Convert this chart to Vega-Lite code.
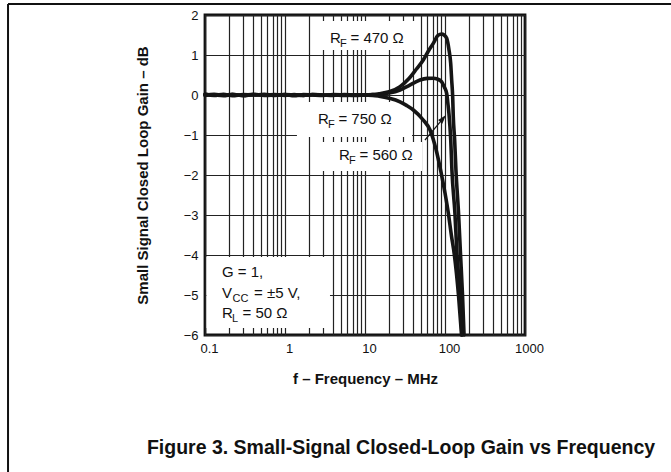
{
  "$schema": "https://vega.github.io/schema/vega-lite/v6.json",
  "width": 320,
  "height": 320,
  "autosize": {"type": "none"},
  "padding": {"left": 205, "top": 15, "right": 146, "bottom": 137},
  "background": "white",
  "config": {
    "view": {"stroke": "#111", "strokeWidth": 2.8},
    "font": "Liberation Sans"
  },
  "datasets": {
    "curves": [
      {"series": "470", "f": 0.1, "g": 0.02}, {"series": "470", "f": 0.13, "g": -0.01}, {"series": "470", "f": 0.17, "g": 0.015}, {"series": "470", "f": 0.22, "g": -0.02}, {"series": "470", "f": 0.3, "g": 0.01}, {"series": "470", "f": 0.4, "g": 0.0}, {"series": "470", "f": 0.55, "g": 0.015}, {"series": "470", "f": 0.75, "g": -0.01}, {"series": "470", "f": 1, "g": 0.01}, {"series": "470", "f": 1.3, "g": -0.015}, {"series": "470", "f": 1.7, "g": 0.01}, {"series": "470", "f": 2.2, "g": 0.0}, {"series": "470", "f": 3, "g": -0.01}, {"series": "470", "f": 4, "g": 0.01}, {"series": "470", "f": 5.5, "g": 0.0}, {"series": "470", "f": 7.5, "g": -0.01}, {"series": "470", "f": 10, "g": 0.005}, {"series": "470", "f": 12.5, "g": 0.01},
      {"series": "470", "f": 15, "g": 0.03}, {"series": "470", "f": 20, "g": 0.08}, {"series": "470", "f": 27.4, "g": 0.21}, {"series": "470", "f": 35, "g": 0.4}, {"series": "470", "f": 44, "g": 0.65}, {"series": "470", "f": 53.5, "g": 0.875}, {"series": "470", "f": 62, "g": 1.1}, {"series": "470", "f": 71.4, "g": 1.29}, {"series": "470", "f": 81.7, "g": 1.49}, {"series": "470", "f": 91, "g": 1.525}, {"series": "470", "f": 97.2, "g": 1.5}, {"series": "470", "f": 105, "g": 1.4175}, {"series": "470", "f": 112.2, "g": 1.125}, {"series": "470", "f": 117.8, "g": 0.79}, {"series": "470", "f": 121.2, "g": 0.375}, {"series": "470", "f": 124.7, "g": -0.04}, {"series": "470", "f": 126.9, "g": -0.54}, {"series": "470", "f": 132, "g": -1.125}, {"series": "470", "f": 137, "g": -1.875}, {"series": "470", "f": 147.6, "g": -2.95}, {"series": "470", "f": 156, "g": -3.95}, {"series": "470", "f": 165.5, "g": -5}, {"series": "470", "f": 173, "g": -6},
      {"series": "750", "f": 0.1, "g": 0.015}, {"series": "750", "f": 0.13, "g": 0.0}, {"series": "750", "f": 0.17, "g": -0.015}, {"series": "750", "f": 0.22, "g": 0.01}, {"series": "750", "f": 0.3, "g": -0.01}, {"series": "750", "f": 0.4, "g": 0.015}, {"series": "750", "f": 0.55, "g": 0.0}, {"series": "750", "f": 0.75, "g": 0.01}, {"series": "750", "f": 1, "g": -0.01}, {"series": "750", "f": 1.3, "g": 0.01}, {"series": "750", "f": 1.7, "g": -0.01}, {"series": "750", "f": 2.2, "g": 0.01}, {"series": "750", "f": 3, "g": 0.0}, {"series": "750", "f": 4, "g": -0.01}, {"series": "750", "f": 5.5, "g": 0.01}, {"series": "750", "f": 7.5, "g": 0.0}, {"series": "750", "f": 10, "g": 0.0}, {"series": "750", "f": 12.5, "g": 0.01},
      {"series": "750", "f": 15, "g": 0.02}, {"series": "750", "f": 20, "g": 0.05}, {"series": "750", "f": 27.4, "g": 0.125}, {"series": "750", "f": 35, "g": 0.23}, {"series": "750", "f": 48.7, "g": 0.375}, {"series": "750", "f": 60, "g": 0.415}, {"series": "750", "f": 71.4, "g": 0.42}, {"series": "750", "f": 80, "g": 0.4}, {"series": "750", "f": 91, "g": 0.33}, {"series": "750", "f": 98, "g": 0.2}, {"series": "750", "f": 105, "g": 0.04}, {"series": "750", "f": 108.5, "g": -0.2}, {"series": "750", "f": 112, "g": -0.46}, {"series": "750", "f": 118, "g": -1.125}, {"series": "750", "f": 122, "g": -1.875}, {"series": "750", "f": 133, "g": -2.95}, {"series": "750", "f": 141, "g": -3.95}, {"series": "750", "f": 154, "g": -5}, {"series": "750", "f": 163, "g": -6},
      {"series": "560", "f": 0.1, "g": -0.01}, {"series": "560", "f": 0.13, "g": 0.015}, {"series": "560", "f": 0.17, "g": 0.0}, {"series": "560", "f": 0.22, "g": 0.015}, {"series": "560", "f": 0.3, "g": -0.015}, {"series": "560", "f": 0.4, "g": 0.01}, {"series": "560", "f": 0.55, "g": -0.01}, {"series": "560", "f": 0.75, "g": 0.0}, {"series": "560", "f": 1, "g": 0.01}, {"series": "560", "f": 1.3, "g": 0.0}, {"series": "560", "f": 1.7, "g": -0.01}, {"series": "560", "f": 2.2, "g": 0.01}, {"series": "560", "f": 3, "g": -0.005}, {"series": "560", "f": 4, "g": 0.0}, {"series": "560", "f": 5.5, "g": -0.01}, {"series": "560", "f": 7.5, "g": 0.005}, {"series": "560", "f": 10, "g": -0.005}, {"series": "560", "f": 12.5, "g": -0.01},
      {"series": "560", "f": 15, "g": -0.03}, {"series": "560", "f": 20, "g": -0.08}, {"series": "560", "f": 27.4, "g": -0.17}, {"series": "560", "f": 33, "g": -0.26}, {"series": "560", "f": 40.2, "g": -0.375}, {"series": "560", "f": 53.5, "g": -0.625}, {"series": "560", "f": 65, "g": -0.875}, {"series": "560", "f": 77, "g": -1.35}, {"series": "560", "f": 89, "g": -1.92}, {"series": "560", "f": 100, "g": -2.45}, {"series": "560", "f": 110, "g": -2.95}, {"series": "560", "f": 120, "g": -3.5}, {"series": "560", "f": 131, "g": -4.0}, {"series": "560", "f": 148, "g": -5.04}, {"series": "560", "f": 161, "g": -6}
    ],
    "boxes": [
      {"box": "470", "f": 2.18, "f2": 48.7, "g": 1.85, "g2": 1.125},
      {"box": "750", "f": 1.41, "f2": 38.7, "g": -0.175, "g2": -1.05},
      {"box": "560", "f": 2.3, "f2": 51.6, "g": -1.175, "g2": -1.9},
      {"box": "cond", "f": 0.1044, "f2": 3.65, "g": -4.05, "g2": -5.825}
    ],
    "labels": [
      {"f": 3.65, "g": 1.3075, "main": "R", "sub": "F", "rest": "= 470 Ω", "kind": "R"},
      {"f": 2.58, "g": -0.7325, "main": "R", "sub": "F", "rest": "= 750 Ω", "kind": "R"},
      {"f": 4.73, "g": -1.625, "main": "R", "sub": "F", "rest": "= 560 Ω", "kind": "R"},
      {"f": 0.163, "g": -4.54, "main": "G = 1,", "sub": "", "rest": "", "kind": "G"},
      {"f": 0.163, "g": -5.08, "main": "V", "sub": "CC", "rest": "= ±5 V,", "kind": "V"},
      {"f": 0.163, "g": -5.57, "main": "R", "sub": "L", "rest": "= 50 Ω", "kind": "R"}
    ],
    "caption": [
      {"f": 28.2, "g": -8.97, "text": "Figure 3. Small-Signal Closed-Loop Gain vs Frequency"}
    ],
    "arrow": [
      {"f": 56.2, "g": -1.125, "f2": 93.9, "g2": -0.595}
    ],
    "arrowhead": [
      {"f": 93.9, "g": -0.595}
    ],
    "frame": [
      {"f": 0.000345, "g": 2.275, "f2": 100000, "g2": 2.275},
      {"f": 0.000345, "g": 2.275, "f2": 0.000345, "g2": -9.5}
    ]
  },
  "encoding": {
    "x": {
      "field": "f",
      "type": "quantitative",
      "scale": {"type": "log", "domain": [0.1, 1000], "nice": false},
      "axis": {
        "values": [0.1, 0.2, 0.3, 0.4, 0.5, 0.6, 0.7, 0.8, 0.9, 1, 2, 3, 4, 5, 6, 7, 8, 9, 10, 20, 30, 40, 50, 60, 70, 80, 90, 100, 200, 300, 400, 500, 600, 700, 800, 900, 1000],
        "labelExpr": "indexof([0.1, 1, 10, 100, 1000], datum.value) >= 0 ? format(datum.value, '~g') : ''",
        "labelOverlap": false,
        "labelFlush": false,
        "labelBound": false,
        "labelOffset": 4,
        "labelPadding": 7,
        "labelFont": "Liberation Sans",
        "labelFontSize": 13,
        "labelColor": "#111",
        "ticks": false,
        "domain": false,
        "grid": true,
        "gridColor": "#222",
        "gridWidth": 1.2,
        "gridOpacity": 1,
        "title": "f – Frequency – MHz",
        "titleFont": "Liberation Sans",
        "titleFontSize": 15,
        "titleFontWeight": "bold",
        "titleColor": "#111",
        "titlePadding": 16
      }
    },
    "y": {
      "field": "g",
      "type": "quantitative",
      "scale": {"domain": [-6, 2], "nice": false, "zero": false},
      "axis": {
        "values": [-6, -5, -4, -3, -2, -1, 0, 1, 2],
        "labelPadding": 7,
        "labelFont": "Liberation Sans",
        "labelFontSize": 13,
        "labelColor": "#111",
        "labelBound": false,
        "labelFlush": false,
        "labelOverlap": false,
        "ticks": false,
        "domain": false,
        "grid": true,
        "gridColor": "#222",
        "gridWidth": 1.2,
        "gridOpacity": 1,
        "title": "Small Signal Closed Loop Gain – dB",
        "titleFont": "Liberation Sans",
        "titleFontSize": 15,
        "titleFontWeight": "bold",
        "titleColor": "#111",
        "titlePadding": 33
      }
    }
  },
  "layer": [
    {
      "data": {"name": "boxes"},
      "mark": {"type": "rect", "fill": "white", "strokeWidth": 0},
      "encoding": {"x2": {"field": "f2"}, "y2": {"field": "g2"}}
    },
    {
      "data": {"name": "curves"},
      "mark": {"type": "line", "strokeWidth": 3.6, "color": "#151515", "interpolate": "monotone", "strokeCap": "round", "strokeJoin": "round"},
      "encoding": {"detail": {"field": "series"}}
    },
    {
      "data": {"name": "arrow"},
      "mark": {"type": "rule", "strokeWidth": 1.2, "color": "#151515"},
      "encoding": {"x2": {"field": "f2"}, "y2": {"field": "g2"}}
    },
    {
      "data": {"name": "arrowhead"},
      "mark": {"type": "point", "shape": "M0,-1L0.55,0.8L-0.55,0.8Z", "filled": true, "size": 100, "angle": 40, "color": "#151515", "opacity": 1}
    },
    {
      "data": {"name": "labels"},
      "mark": {"type": "text", "align": "left", "baseline": "alphabetic", "fontSize": 15, "font": "Liberation Sans", "color": "#111"},
      "encoding": {"text": {"field": "main"}}
    },
    {
      "data": {"name": "labels"},
      "transform": [{"filter": "datum.kind === 'R'"}],
      "mark": {"type": "text", "align": "left", "baseline": "alphabetic", "fontSize": 11, "font": "Liberation Sans", "color": "#111", "dx": 10, "dy": 4},
      "encoding": {"text": {"field": "sub"}}
    },
    {
      "data": {"name": "labels"},
      "transform": [{"filter": "datum.kind === 'V'"}],
      "mark": {"type": "text", "align": "left", "baseline": "alphabetic", "fontSize": 11, "font": "Liberation Sans", "color": "#111", "dx": 10.5, "dy": 4},
      "encoding": {"text": {"field": "sub"}}
    },
    {
      "data": {"name": "labels"},
      "transform": [{"filter": "datum.kind === 'R'"}],
      "mark": {"type": "text", "align": "left", "baseline": "alphabetic", "fontSize": 15, "font": "Liberation Sans", "color": "#111", "dx": 20.5},
      "encoding": {"text": {"field": "rest"}}
    },
    {
      "data": {"name": "labels"},
      "transform": [{"filter": "datum.kind === 'V'"}],
      "mark": {"type": "text", "align": "left", "baseline": "alphabetic", "fontSize": 15, "font": "Liberation Sans", "color": "#111", "dx": 32},
      "encoding": {"text": {"field": "rest"}}
    },
    {
      "data": {"name": "caption"},
      "mark": {"type": "text", "align": "center", "baseline": "alphabetic", "fontSize": 19.5, "fontWeight": "bold", "font": "Liberation Sans", "color": "#111"},
      "encoding": {"text": {"field": "text"}}
    },
    {
      "data": {"name": "frame"},
      "mark": {"type": "rule", "strokeWidth": 2, "color": "#111"},
      "encoding": {"x2": {"field": "f2"}, "y2": {"field": "g2"}}
    }
  ]
}
